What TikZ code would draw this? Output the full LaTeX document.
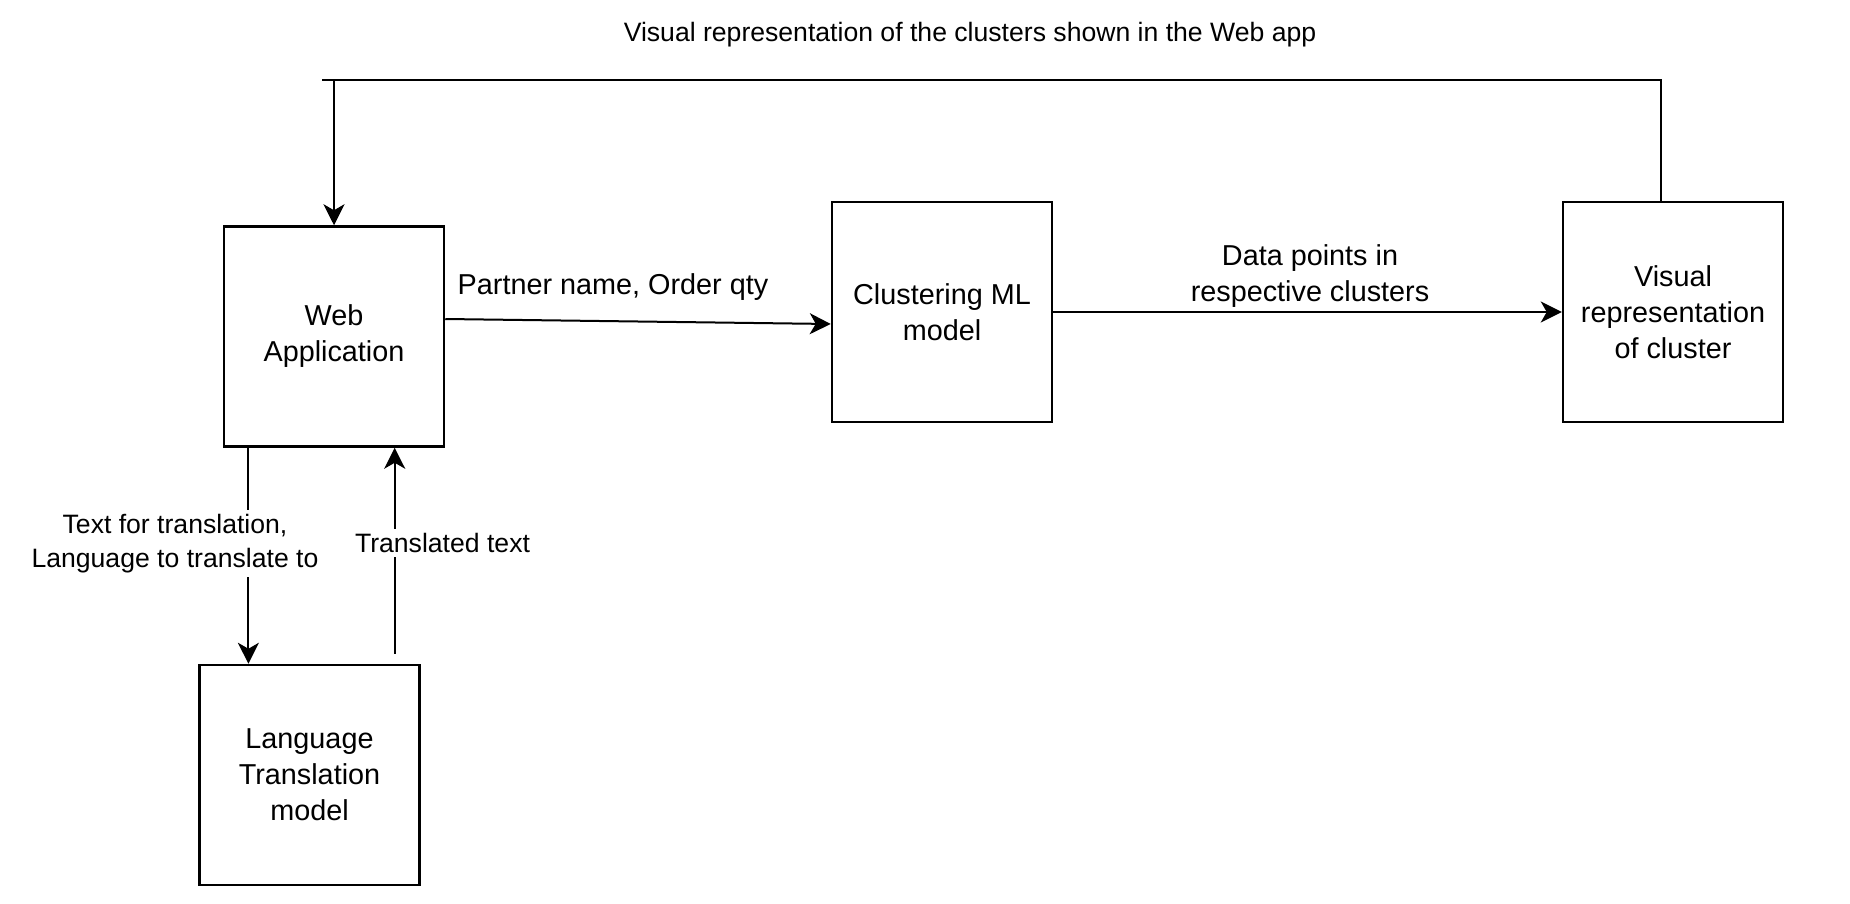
\documentclass[tikz,border=0pt]{standalone}
\usepackage{fontspec}
\setmainfont{Liberation Sans}
\usetikzlibrary{arrows.meta}
\begin{document}
\begin{tikzpicture}[x=1pt,y=1pt,
  bigfont/.style={font=\fontsize{28.8}{36}\selectfont},
  smallfont/.style={font=\fontsize{26.6}{34}\selectfont},
  box/.style={draw, line width=2.5pt, minimum width=220pt, minimum height=220pt,
    align=center, inner sep=0pt, bigfont},
  conn/.style={line width=2pt},
  arr/.style={conn, -{Stealth[length=21pt,width=21pt,inset=6pt]}},
  lbl/.style={fill=white, align=center, inner sep=4pt, smallfont},
  hlbl/.style={align=center, inner sep=0pt, bigfont}]
\useasboundingbox (0,0) rectangle (1850,-904);

\node[box] (web) at (334,-336.5) {Web\\Application};
\node[box] (lt)  at (309.5,-775) {Language\\Translation\\model};
\node[box] (cl)  at (942,-312) {Clustering ML\\model};
\node[box] (vis) at (1673,-312) {Visual\\representation\\of cluster};

\node[smallfont, inner sep=0pt] (title) at (970,-35) {Visual representation of the clusters shown in the Web app};

% feedback loop from visual representation to web app
\coordinate (topR) at (1660.7,-80);
\coordinate (topL) at (321.5,-80);
\coordinate (topA) at (334,-80);
\draw[conn] (vis.north -| topR) -- (topR) -- (topL);
\draw[arr] (topA) -- (web.north);

% web app -> clustering
\draw[arr] ([yshift=17.5pt]web.east) -- ([yshift=-12pt]cl.west);
\node[hlbl] (lblpartner) at (613,-287) {Partner name, Order qty};

% clustering -> visual
\draw[arr] (cl.east) -- (vis.west);
\node[hlbl] (lbldata) at (1310,-276) {Data points in\\respective clusters};

% web app -> translation model
\coordinate (wdown) at ([xshift=-85.6pt]web.south);
\draw[arr] (wdown) -- (wdown |- lt.north);
\node[lbl] (lbltext) at (175,-543.5) {Text for translation,\\Language to translate to};

% translation model -> web app
\coordinate (upstart) at (394.7,-653.7);
\draw[arr] (upstart) -- (upstart |- web.south);
\node[lbl] (lbltrans) at (442.5,-543) {Translated text};
\end{tikzpicture}
\end{document}
